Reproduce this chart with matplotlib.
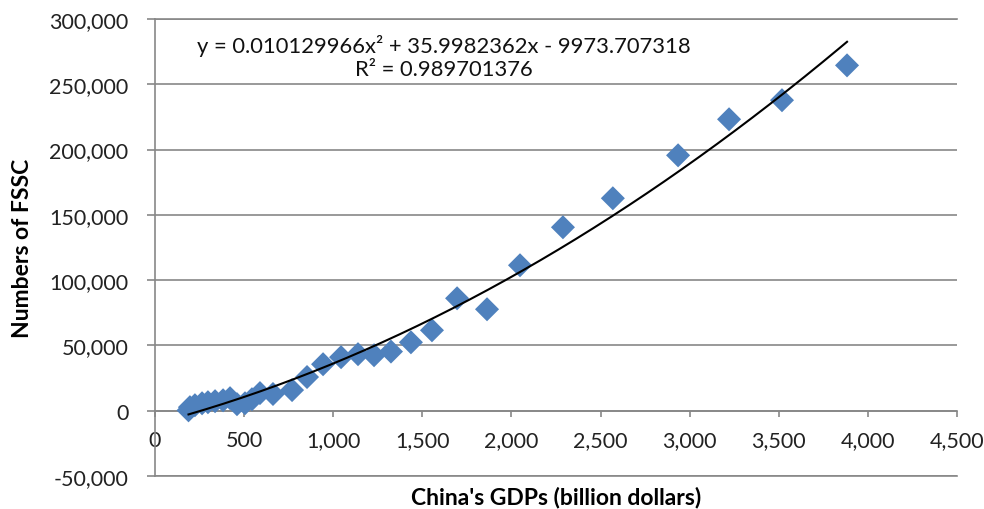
import numpy as np
import matplotlib
matplotlib.use("Agg")
import matplotlib.pyplot as plt
from matplotlib.ticker import FuncFormatter, MultipleLocator

plt.rcParams['font.family'] = ['Lato', 'DejaVu Sans']

# GDP (billion dollars) and FSSC counts
gdp = [188, 196, 224, 264, 297, 337, 382, 421, 460, 505, 544, 589, 662, 769,
       853, 943, 1044, 1139, 1229, 1324, 1436, 1554, 1695, 1863, 2048, 2289,
       2569, 2935, 3221, 3518, 3883]
fssc = [300, 2700, 4200, 5700, 6500, 7300, 8000, 9600, 5000, 5700, 8800,
        13500, 12800, 15800, 25800, 35600, 41000, 43300, 42500, 45300, 52400,
        61600, 86100, 77700, 111400, 140500, 162700, 195600, 223200, 237800,
        264500]

# quadratic trend coefficients and fit quality
coef = [0.010129966, 35.9982362, -9973.707318]
r2 = 0.989701376

grey = '#878787'
blue = '#4F81BD'

fig = plt.figure(figsize=(9.84, 5.10), dpi=100)
ax = fig.add_axes([155 / 984, 33 / 510, 802 / 984, 457 / 510])

ax.scatter(gdp, fssc, marker='D', s=150, color=blue, edgecolors='none', zorder=3)

xs = np.linspace(min(gdp), max(gdp), 300)
ax.plot(xs, np.polyval(coef, xs), color='black', lw=1.5, zorder=4)

ax.set_xlim(0, 4500)
ax.set_ylim(-50000, 300000)
ax.xaxis.set_major_locator(MultipleLocator(500))
ax.yaxis.set_major_locator(MultipleLocator(50000))
fmt = FuncFormatter(lambda v, p: f'{v:,.0f}')
ax.xaxis.set_major_formatter(fmt)
ax.yaxis.set_major_formatter(fmt)

ax.grid(axis='y', color=grey, lw=1.2, zorder=0)
for y in (-50000, 300000):
    ax.axhline(y, color=grey, lw=1.2, clip_on=False, zorder=0)

for s in ('top', 'right'):
    ax.spines[s].set_visible(False)
ax.spines['bottom'].set_position(('data', 0))
ax.spines['bottom'].set_color(grey)
ax.spines['left'].set_color(grey)
ax.spines['bottom'].set_linewidth(1.2)
ax.spines['left'].set_linewidth(1.2)

ax.tick_params(axis='x', direction='out', length=4, width=1.2, color=grey,
               labelsize=15.5, pad=10, labelcolor='#222222')
ax.tick_params(axis='y', direction='out', length=6, width=1.2, color=grey,
               labelsize=15.5, pad=13, labelcolor='#222222')

ax.set_xlabel("China's GDPs (billion dollars)", fontsize=16.5, fontweight='bold')
ax.xaxis.set_label_coords(0.5, -0.022)
ax.set_ylabel('Numbers of FSSC', fontsize=16.5, fontweight='bold')
ax.yaxis.set_label_coords(-0.152, 0.5)

eq = (f'y = {coef[0]:.9f}x\u00b2 + {coef[1]:.7f}x - {abs(coef[2]):.6f}\n'
      f'R\u00b2 = {r2:.9f}')
ax.text(1620, 271000, eq, ha='center', va='center', fontsize=15.8,
        linespacing=1.2, color='#111111')

fig.savefig('out.png', dpi=100)
